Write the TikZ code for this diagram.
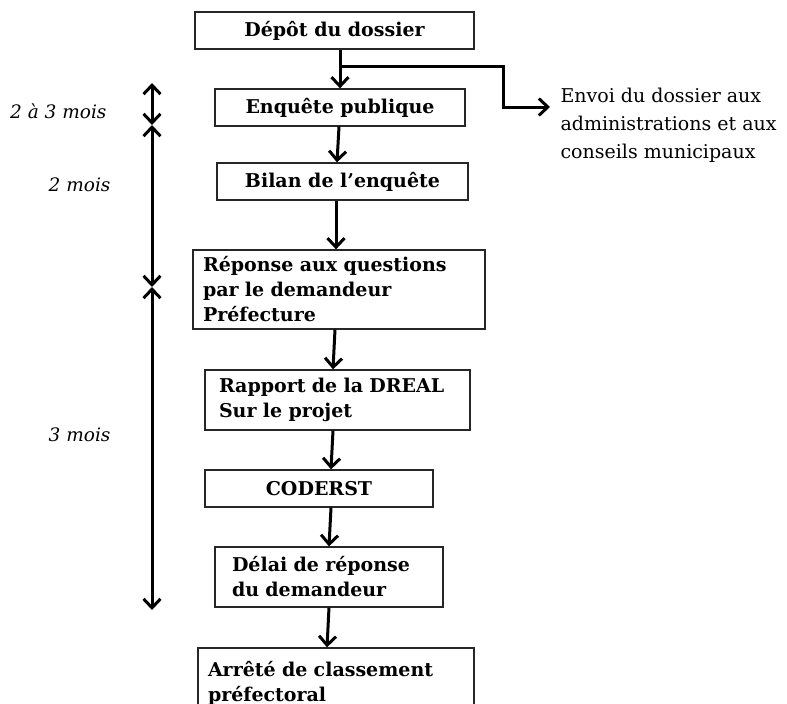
\documentclass[tikz,border=0pt]{standalone}
\usepackage{fontspec}
\setmainfont{DejaVu Serif}
\usetikzlibrary{arrows.meta}
\tikzset{
  box/.style={draw=black!85,line width=1.3pt,inner sep=0pt,font=\fontsize{19}{25}\selectfont\bfseries},
  leftbox/.style={box,align=left,inner xsep=#1},
  flow/.style={line width=3pt,-{Straight Barb[length=9pt,width=17pt,line width=3pt]}},
  span/.style={line width=3pt,{Straight Barb[length=9pt,width=17pt,line width=3pt]}-{Straight Barb[length=9pt,width=17pt,line width=3pt]}},
  duree/.style={anchor=east,font=\fontsize{18.5}{20}\selectfont\itshape}
}
\begin{document}
\begin{tikzpicture}[x=1pt,y=-1pt]
	\clip (0,0) rectangle (787,704);
	\useasboundingbox (0,0) rectangle (787,704);
	% les etapes
	\node[box,minimum width=279pt,minimum height=37pt] (depot) at (334.5,30.5){Dépôt du dossier};
	\node[box,minimum width=250pt,minimum height=37pt] (enquete) at (340,107.5){Enquête publique};
	\node[box,minimum width=251pt,minimum height=37pt] (bilan) at (342.5,181.5){Bilan de l’enquête};
	\node[leftbox=10pt,text width=272pt,minimum height=79pt] (reponse) at (339,289.5){Réponse aux questions\\par le demandeur\\Préfecture};
	\node[leftbox=14pt,text width=237pt,minimum height=60pt] (rapport) at (337.5,400){Rapport de la DREAL\\Sur le projet};
	\node[box,minimum width=228pt,minimum height=37pt] (coderst) at (319,488.5){CODERST};
	\node[leftbox=17pt,text width=194pt,minimum height=60pt] (delai) at (329,577){Délai de réponse\\du demandeur};
	\node[leftbox=10pt,text width=256pt,minimum height=70pt] (arrete) at (336,683){Arrêté de classement\\préfectoral};
	% l'envoi
	\node[anchor=north west,align=left,font=\fontsize{19}{28}\selectfont] (envoi) at (557,85){Envoi du dossier aux\\administrations et aux\\ conseils municipaux};
	\coordinate (split) at (340,66);
	\coordinate (envtip) at (550,107);
	% les fleches
	\draw[flow] ([xshift=5.5pt]depot.south) -- (enquete.north);
	\draw[flow] ([xshift=-1pt]enquete.south) -- ([xshift=-5.5pt]bilan.north);
	\draw[flow] ([xshift=-6.5pt]bilan.south) -- ([xshift=-3pt]reponse.north);
	\draw[flow] ([xshift=-4pt]reponse.south) -- ([xshift=-4.5pt]rapport.north);
	\draw[flow] ([xshift=-4.5pt]rapport.south) -- ([xshift=12pt]coderst.north);
	\draw[flow] ([xshift=12pt]coderst.south) -- (delai.north);
	\draw[flow] (delai.south) -- ([xshift=-9pt]arrete.north);
	\draw[flow] (split) -| (503,107) -- (envtip);
	% la duree
	\coordinate (t0) at (152,83);
	\coordinate (t1) at (152,125);
	\coordinate (t2) at (152,287);
	\coordinate (t3) at (152,610);
	\draw[span] (t0)--(t1);
	\draw[span] (t1)--(t2);
	\draw[span] (t2)--(t3);
	\node[duree] (d1) at (110,111){2 à 3 mois};
	\node[duree] (d2) at (114,185){2 mois};
	\node[duree] (d3) at (114,435){3 mois};
\end{tikzpicture}
\end{document}
